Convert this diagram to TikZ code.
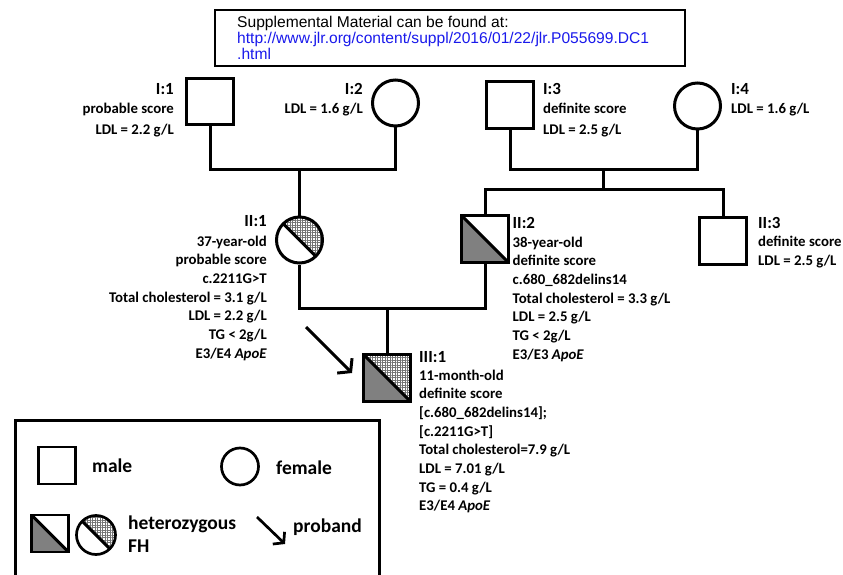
\documentclass[tikz,border=0pt]{standalone}
\usepackage{fontspec}
\setmainfont{Carlito}
\newfontfamily\arialfont{Liberation Sans}
\usetikzlibrary{arrows.meta,patterns.meta}
\newcommand\rtab[1]{\begin{tabular}[t]{@{}r@{}}#1\end{tabular}}
\newcommand\ltab[1]{\begin{tabular}[t]{@{}l@{}}#1\end{tabular}}
\definecolor{urlblue}{RGB}{25,25,235}
\definecolor{affgray}{RGB}{128,128,128}
\tikzset{
  ln/.style={line width=3pt},
  sq/.style={draw, line width=3pt, rectangle, minimum size=46.5pt, inner sep=0pt},
  ci/.style={draw, line width=3pt, circle, minimum size=46pt, inner sep=0pt},
  lsq/.style={draw, line width=2.7pt, rectangle, minimum size=37pt, inner sep=0pt},
  lci/.style={draw, line width=2.7pt, circle, minimum size=37pt, inner sep=0pt},
  hatchfill/.style={pattern={Hatch[angle=0,distance=2.5pt,line width=0.5pt]}, pattern color=black!55},
  affhalf/.style={path picture={
    \fill[affgray] (path picture bounding box.north west) -- (path picture bounding box.south west) -- (path picture bounding box.south east) -- cycle;
    \draw[line width=3pt] (path picture bounding box.north west) -- (path picture bounding box.south east);}},
  hatchhalf/.style={path picture={
    \fill[hatchfill] (path picture bounding box.north west) -- (path picture bounding box.north east) -- (path picture bounding box.south east) -- cycle;
    \draw[line width=3pt] (path picture bounding box.north west) -- (path picture bounding box.south east);}},
  bothhalf/.style={path picture={
    \fill[affgray] (path picture bounding box.north west) -- (path picture bounding box.south west) -- (path picture bounding box.south east) -- cycle;
    \fill[hatchfill] (path picture bounding box.north west) -- (path picture bounding box.north east) -- (path picture bounding box.south east) -- cycle;
    \draw[line width=3pt] (path picture bounding box.north west) -- (path picture bounding box.south east);}},
  ttl/.style={font=\fontsize{17}{20}\selectfont\bfseries, inner sep=0pt},
  det/.style={font=\fontsize{14.8}{18.7}\selectfont\bfseries, inner sep=0pt},
  detI/.style={font=\fontsize{14.8}{21}\selectfont\bfseries, inner sep=0pt},
  lgd/.style={font=\fontsize{19.5}{23}\selectfont\bfseries, inner sep=0pt},
  arr/.style={line width=3pt, -{Straight Barb[length=8.5pt,width=21pt]}},
  larr/.style={line width=2.7pt, -{Straight Barb[length=7pt,width=17pt]}},
}
\begin{document}
\begin{tikzpicture}[x=1pt,y=-1pt]
\useasboundingbox (0,0) rectangle (843,575);
% header
\node[draw, line width=2.2pt, minimum width=470pt, minimum height=56pt, inner sep=0pt] (hdr) at (450,38) {};
\node[anchor=base west, inner sep=0pt, font=\arialfont\fontsize{15.6}{15.7}\selectfont] (hdrtxt) at (237,27.7)
  {\ltab{Supplemental Material can be found at:\\\textcolor{urlblue}{http://www.jlr.org/content/suppl/2016/01/22/jlr.P055699.DC1}\\\textcolor{urlblue}{.html}}};
% generation I
\node[sq] (I1) at (210,101.5) {};
\node[ci] (I2) at (395.5,103) {};
\node[sq] (I3) at (510,105) {};
\node[ci] (I4) at (697.5,106) {};
\node[ttl, anchor=base east] (I1t) at (174,95) {I:1};
\node[detI, anchor=base east] (I1d) at (174,113.5) {\rtab{probable score\\LDL = 2.2 g/L}};
\node[ttl, anchor=base east] (I2t) at (363,95) {I:2};
\node[detI, anchor=base east] (I2d) at (363,113.5) {\rtab{LDL = 1.6 g/L}};
\node[ttl, anchor=base west] (I3t) at (543,95) {I:3};
\node[detI, anchor=base west] (I3d) at (543,113.5) {\ltab{definite score\\LDL = 2.5 g/L}};
\node[ttl, anchor=base west] (I4t) at (731,95) {I:4};
\node[detI, anchor=base west] (I4d) at (731,113.5) {\ltab{LDL = 1.6 g/L}};
% generation II
\node[ci, hatchhalf] (II1) at (299.5,240) {};
\node[sq, affhalf] (II2) at (485,239) {};
\node[sq] (II3) at (723,241) {};
\node[ttl, anchor=base east] (II1t) at (267,226.5) {II:1};
\node[det, anchor=base east] (II1d) at (267,246) {\rtab{37-year-old\\probable score\\c.2211G>T\\Total cholesterol = 3.1 g/L\\LDL = 2.2 g/L\\TG < 2g/L\\E3/E4 \textit{ApoE}}};
\node[ttl, anchor=base west] (II2t) at (512.5,228) {II:2};
\node[det, anchor=base west] (II2d) at (512.5,247) {\ltab{38-year-old\\definite score\\c.680\_682delins14\\Total cholesterol = 3.3 g/L\\LDL = 2.5 g/L\\TG < 2g/L\\E3/E3 \textit{ApoE}}};
\node[ttl, anchor=base west] (II3t) at (758,228) {II:3};
\node[det, anchor=base west] (II3d) at (758,246.5) {\ltab{definite score\\LDL = 2.5 g/L}};
% generation III
\node[sq, bothhalf] (III1) at (387,378) {};
\node[ttl, anchor=base west] (III1t) at (419,362) {III:1};
\node[det, anchor=base west] (III1d) at (419,380) {\ltab{11-month-old\\definite score\\{[c.680\_682delins14];}\\{[c.2211G>T]}\\Total cholesterol=7.9 g/L\\LDL = 7.01 g/L\\TG = 0.4 g/L\\E3/E4 \textit{ApoE}}};
% connectors
\coordinate (m12) at (300,169);
\draw[ln] (I1.south) |- (m12) -| (I2.south);
\draw[ln] (II1.north |- m12) -- (II1.north);
\coordinate (m34) at (603,169);
\draw[ln] (I3.south) |- (m34) -| (I4.south);
\coordinate (sib) at (603,189);
\draw[ln] (m34) -- (sib);
\draw[ln] (II2.north) |- (sib) -| (II3.north);
\coordinate (m2) at (387,308);
\draw[ln] (II1.south) |- (m2) -| (II2.south);
\draw[ln] (m2) -- (III1.north);
% proband arrow
\coordinate (pa) at (306,327);
\coordinate (pb) at (352,373);
\draw[arr] (pa) -- (pb);
% legend
\draw[line width=3pt] (15,580) -- (15,420) -- (379,420) -- (379,580);
\node[lsq] (Lm) at (57,465.5) {};
\node[lgd, anchor=base west] (Lmt) at (92,472) {male};
\node[lci] (Lf) at (240,466.5) {};
\node[lgd, anchor=base west] (Lft) at (276,474) {female};
\node[lsq, affhalf] (La) at (50,533.5) {};
\node[lci, minimum size=39pt, hatchhalf] (Lb) at (96,535) {};
\node[lgd, anchor=base west] (Lht) at (128,529) {\ltab{heterozygous\\FH}};
\coordinate (Lpa) at (257,517);
\coordinate (Lpb) at (285,544);
\draw[larr] (Lpa) -- (Lpb);
\node[lgd, anchor=base west] (Lpt) at (293,532) {proband};
\end{tikzpicture}
\end{document}
